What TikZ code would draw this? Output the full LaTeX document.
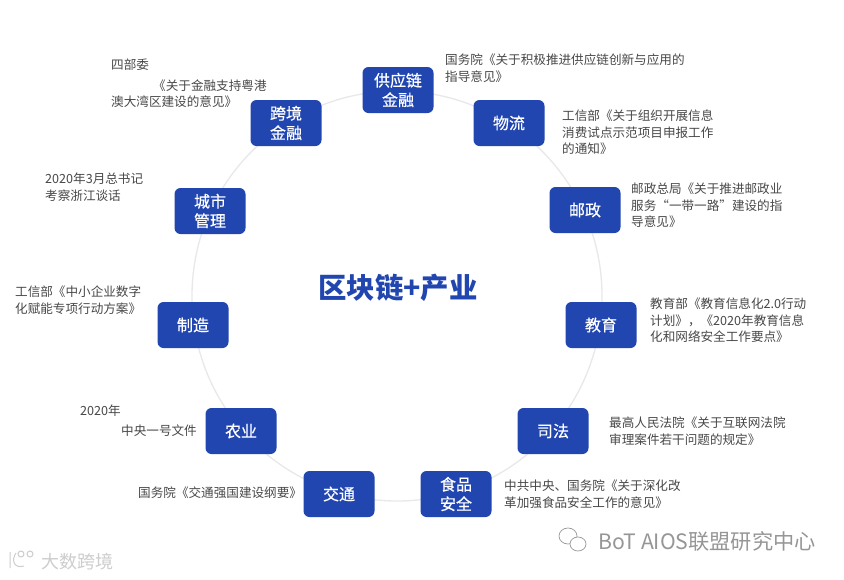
\documentclass[tikz,border=0pt]{standalone}
\usepackage{fontspec}
\setmainfont{Noto Sans CJK SC}
\newfontfamily\blockfont[FakeBold=0.5]{Noto Sans CJK SC}
\usepackage{xcolor}
\usetikzlibrary{positioning}
\definecolor{myblue}{RGB}{34,70,176}
\definecolor{mydark}{RGB}{72,72,72}
\definecolor{myring}{RGB}{232,232,234}
\definecolor{mywater}{RGB}{150,150,150}
\definecolor{mypale}{RGB}{205,205,205}
\tikzset{
  block/.style={rectangle, fill=myblue, text=white, minimum width=71pt, minimum height=46pt,
    align=center, font=\blockfont\fontsize{16}{19.5}\selectfont, rounded corners=6pt, inner sep=0pt},
  tallblock/.style={block, execute at begin node={\rule{0pt}{17pt}}},
  note/.style={anchor=north west, align=left, inner sep=0pt, text=mydark,
    font=\fontsize{12.6}{16.5}\selectfont},
  ringline/.style={draw=myring, line width=1.3pt}
}
\begin{document}
\begin{tikzpicture}[x=1pt, y=-1pt]
  \useasboundingbox (0,0) rectangle (844,579);
  \fill[white] (0,0) rectangle (844,579);
  % Ring behind the blocks
  \draw[ringline] (397,296) circle (205);
  % Title
  \node[font=\fontsize{28.4}{32}\selectfont\bfseries, text=myblue, inner sep=0pt] (title) at (398,288) {区块链+产业};
  % Blocks, clockwise from the top
  \node[tallblock] (supply) at (398,90) {供应链\\金融};
  \node[block] (logistics) at (509,123) {物流};
  \node[block] (post) at (585,210) {邮政};
  \node[block] (education) at (601,325) {教育};
  \node[block] (justice) at (553,431) {司法};
  \node[tallblock] (food) at (456,494) {食品\\安全};
  \node[block] (traffic) at (339,494) {交通};
  \node[block] (farm) at (241,431) {农业};
  \node[block] (industry) at (193,325) {制造};
  \node[tallblock] (city) at (210,211) {城市\\管理};
  \node[tallblock] (cross) at (286,123) {跨境\\金融};
  % Notes on the right side
  \node[note] (supplynote) at (445,54) {国务院《关于积极推进供应链创新与应用的\\指导意见》};
  \node[note] (logisticsnote) at (562,110) {工信部《关于组织开展信息\\消费试点示范项目申报工作\\的通知》};
  \node[note] (postnote) at (631,183) {邮政总局《关于推进邮政业\\服务“一带一路”建设的指\\导意见》};
  \node[note] (educationnote) at (650,298) {教育部《教育信息化2.0行动\\计划》，《2020年教育信息\\化和网络安全工作要点》};
  \node[note] (justicenote) at (609,417) {最高人民法院《关于互联网法院\\审理案件若干问题的规定》};
  \node[note] (foodnote) at (504,480) {中共中央、国务院《关于深化改\\革加强食品安全工作的意见》};
  % Notes on the left side
  \node[note] (trafficnote) at (138,487) {国务院《交通强国建设纲要》};
  \node[note] (farmyear) at (80,405) {2020年};
  \node[note] (farmnote) at (121,425) {中央一号文件};
  \node[note] (industrynote) at (15,286) {工信部《中小企业数字\\化赋能专项行动方案》};
  \node[note] (citynote) at (45,173) {2020年3月总书记\\考察浙江谈话};
  \node[note] (crossyear) at (111,59) {四部委};
  \node[note] (crossnote) at (111,79.5) {\hspace*{42pt}《关于金融支持粤港\\澳大湾区建设的意见》};
  % Watermarks
  \draw[mywater, line width=0.7pt] (568,536) ellipse (9 and 8);
  \draw[mywater, line width=0.7pt, fill=white] (578,544) ellipse (8 and 7);
  \node[anchor=west, inner sep=0pt, text=mywater, font=\fontsize{21.2}{24}\selectfont] (mark) at (598,541) {BoT AIOS联盟研究中心};
  \draw[mypale, line width=1pt] (10,552) -- (10,568) (16,553) .. controls (11,560) and (14,569) .. (24,566);
  \draw[mypale, line width=1pt] (21,554) circle (3) (30,554) circle (3);
  \node[anchor=west, inner sep=0pt, text=mypale, font=\fontsize{18}{20}\selectfont] (logo) at (41,562) {大数跨境};
\end{tikzpicture}
\end{document}
